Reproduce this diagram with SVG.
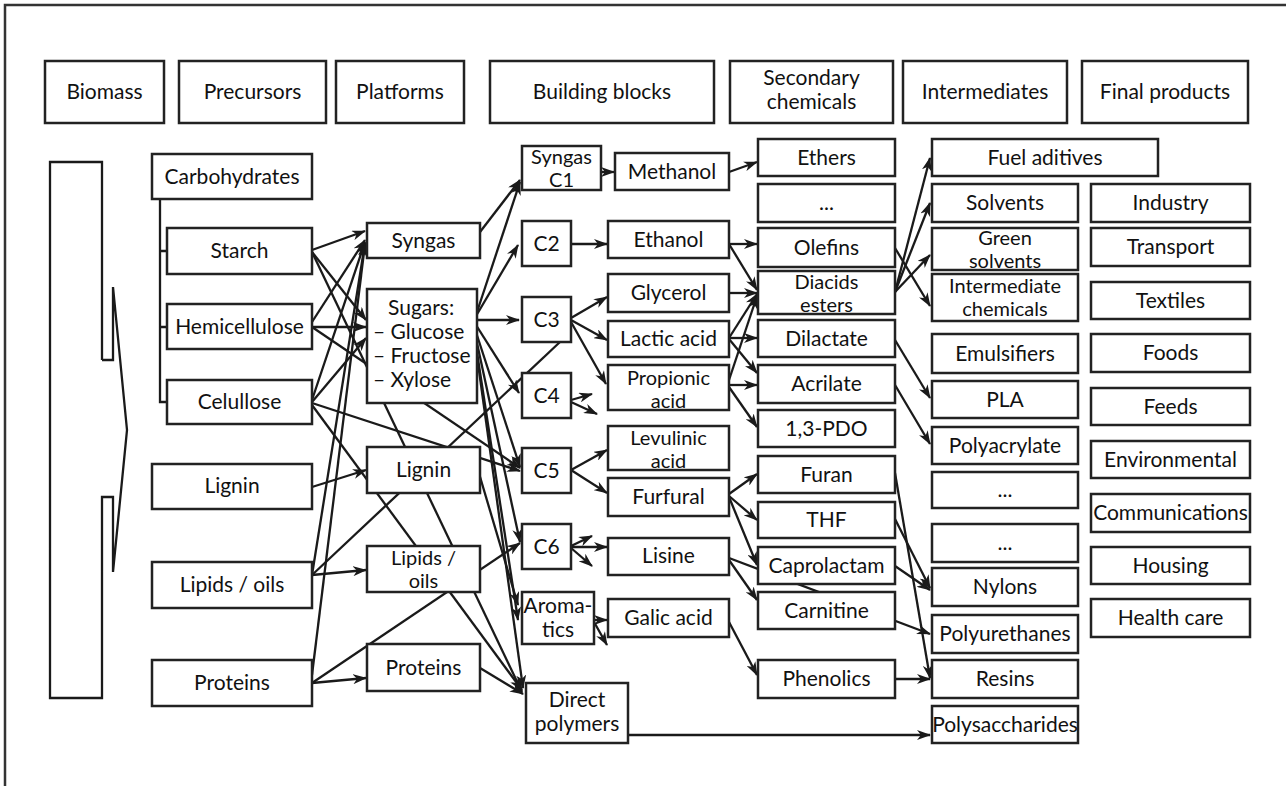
<svg xmlns="http://www.w3.org/2000/svg" width="1286" height="786" viewBox="0 0 1286 786">
<defs>
<marker id="ah" viewBox="0 0 14 10" refX="13" refY="5" markerWidth="14" markerHeight="10" markerUnits="userSpaceOnUse" orient="auto">
<path d="M0,0 L14,5 L0,10 L4,5 z" fill="#1a1a1a"/>
</marker>
<style>
.box{fill:#fff;stroke:#222;stroke-width:2.5}
.t{font-family:Lato,"Open Sans","Liberation Sans",sans-serif;font-size:21px;fill:#111;text-anchor:middle}
.t2{font-size:20px}
.s{text-anchor:start}
.c{stroke:#1a1a1a;stroke-width:2.3;fill:none;marker-end:url(#ah)}
.p{stroke:#1a1a1a;stroke-width:2.3;fill:none}
.frame{stroke:#333;stroke-width:2.5;fill:none}
</style>
</defs>
<rect width="1286" height="786" fill="#fff"/>
<path class="frame" d="M5,786 L5,5 L1286,5"/>
<g id="biomass-arrow">
<path class="p" d="M102,360 L102,162 L50,162 L50,698 L102,698 L102,497 L113,497 L113,572 L127,430 L113,287 L113,360 L102,360"/>
</g>
<g id="connectors">
<path class="p" d="M160,199 L160,402 L167,402 M160,251 L167,251 M160,327 L167,327"/>
<path class="c" d="M312,250 L365,231"/>
<path class="c" d="M312,252 L366,320"/>
<path class="c" d="M312,252 L522,692"/>
<path class="c" d="M312,322 L365,240"/>
<path class="c" d="M312,327 L366,327"/>
<path class="c" d="M312,327 L520,468"/>
<path class="c" d="M312,400 L365,242"/>
<path class="c" d="M312,402 L366,338"/>
<path class="c" d="M312,403 L520,471"/>
<path class="c" d="M312,405 L522,690"/>
<path class="c" d="M312,487 L366,470"/>
<path class="c" d="M312,575 L365,243"/>
<path class="c" d="M312,575 L366,570"/>
<path class="p" d="M312,575 L560,342"/>
<path class="c" d="M312,675 L365,244"/>
<path class="c" d="M312,683 L366,678"/>
<path class="c" d="M312,683 L520,543"/>
<path class="c" d="M480,232 L520,180"/>
<path class="c" d="M476,315 L520,182"/>
<path class="c" d="M476,316 L518,245"/>
<path class="c" d="M477,320 L519,320"/>
<path class="c" d="M476,325 L519,393"/>
<path class="c" d="M472,320 L520,467"/>
<path class="c" d="M472,320 L520,542"/>
<path class="c" d="M472,320 L518,620"/>
<path class="c" d="M472,320 L523,688"/>
<path class="c" d="M478,470 L518,605"/>
<path class="c" d="M480,668 L523,694"/>
<path class="c" d="M601,172 L614,172"/>
<path class="c" d="M571,244 L607,244"/>
<path class="c" d="M571,318 L607,297"/>
<path class="c" d="M571,320 L607,340"/>
<path class="c" d="M571,322 L606,384"/>
<path class="c" d="M571,400 L592,394"/>
<path class="c" d="M571,402 L597,414"/>
<path class="c" d="M571,470 L607,450"/>
<path class="c" d="M571,470 L607,493"/>
<path class="c" d="M571,546 L592,536"/>
<path class="c" d="M571,548 L592,566"/>
<path class="c" d="M571,547 L607,547"/>
<path class="c" d="M594,620 L607,620"/>
<path class="c" d="M594,622 L607,645"/>
<path class="c" d="M628,735 L930,735"/>
<path class="c" d="M729,172 L757,162"/>
<path class="c" d="M729,244 L757,244"/>
<path class="c" d="M729,244 L757,290"/>
<path class="c" d="M729,293 L757,293"/>
<path class="c" d="M729,338 L757,294"/>
<path class="c" d="M729,338 L757,338"/>
<path class="c" d="M729,339 L757,373"/>
<path class="c" d="M729,380 L757,296"/>
<path class="c" d="M729,385 L757,385"/>
<path class="c" d="M729,387 L757,427"/>
<path class="c" d="M729,494 L757,474"/>
<path class="c" d="M729,496 L757,520"/>
<path class="c" d="M729,497 L757,565"/>
<path class="c" d="M729,558 L930,634"/>
<path class="c" d="M729,560 L757,600"/>
<path class="c" d="M729,622 L757,675"/>
<path class="c" d="M895,292 L930,158"/>
<path class="c" d="M895,292 L930,203"/>
<path class="c" d="M895,292 L930,255"/>
<path class="c" d="M895,248 L930,306"/>
<path class="c" d="M895,340 L930,398"/>
<path class="c" d="M895,385 L930,444"/>
<path class="c" d="M895,473 L930,678"/>
<path class="c" d="M895,519 L930,588"/>
<path class="c" d="M895,566 L930,590"/>
<path class="c" d="M895,679 L930,679"/>
</g>
<g id="h-biomass"><rect class="box" x="45" y="61" width="119" height="62"/><text class="t" x="104.5" y="99">Biomass</text></g>
<g id="h-precursors"><rect class="box" x="179" y="61" width="147" height="62"/><text class="t" x="252.5" y="99">Precursors</text></g>
<g id="h-platforms"><rect class="box" x="336" y="61" width="128" height="62"/><text class="t" x="400" y="99">Platforms</text></g>
<g id="h-building"><rect class="box" x="490" y="61" width="224" height="62"/><text class="t" x="602" y="99">Building blocks</text></g>
<g id="h-secondary"><rect class="box" x="730" y="61" width="163" height="62"/><text class="t" x="811.5" y="85">Secondary</text><text class="t" x="811.5" y="109">chemicals</text></g>
<g id="h-intermediates"><rect class="box" x="903" y="61" width="164" height="62"/><text class="t" x="985" y="99">Intermediates</text></g>
<g id="h-final"><rect class="box" x="1082" y="61" width="166" height="62"/><text class="t" x="1165" y="99">Final products</text></g>

<g id="p-carbohydrates"><rect class="box" x="152" y="154" width="160" height="45"/><text class="t" x="232" y="184">Carbohydrates</text></g>
<g id="p-starch"><rect class="box" x="167" y="228" width="145" height="46"/><text class="t" x="239.5" y="258">Starch</text></g>
<g id="p-hemicellulose"><rect class="box" x="167" y="304" width="145" height="45"/><text class="t" x="239.5" y="334">Hemicellulose</text></g>
<g id="p-celullose"><rect class="box" x="167" y="380" width="145" height="44"/><text class="t" x="239.5" y="409">Celullose</text></g>
<g id="p-lignin"><rect class="box" x="152" y="464" width="160" height="45"/><text class="t" x="232" y="493">Lignin</text></g>
<g id="p-lipids"><rect class="box" x="152" y="562" width="160" height="46"/><text class="t" x="232" y="592">Lipids / oils</text></g>
<g id="p-proteins"><rect class="box" x="152" y="660" width="160" height="46"/><text class="t" x="232" y="690">Proteins</text></g>

<g id="pl-syngas"><rect class="box" x="367" y="223" width="113" height="35"/><text class="t" x="423.5" y="248">Syngas</text></g>
<g id="pl-sugars"><rect class="box" x="367" y="289" width="110" height="114"/><text class="t s" x="388" y="315">Sugars:</text><text class="t s" x="373" y="339">– Glucose</text><text class="t s" x="373" y="363">– Fructose</text><text class="t s" x="373" y="387">– Xylose</text></g>
<g id="pl-lignin"><rect class="box" x="367" y="447" width="113" height="46"/><text class="t" x="423.5" y="477">Lignin</text></g>
<g id="pl-lipids"><rect class="box" x="367" y="546" width="113" height="46"/><text class="t t2" x="423.5" y="565">Lipids /</text><text class="t t2" x="423.5" y="588">oils</text></g>
<g id="pl-proteins"><rect class="box" x="367" y="644" width="113" height="47"/><text class="t" x="423.5" y="675">Proteins</text></g>

<g id="b-c1"><rect class="box" x="522" y="146" width="79" height="44"/><text class="t t2" x="561.5" y="164">Syngas</text><text class="t t2" x="561.5" y="187">C1</text></g>
<g id="b-c2"><rect class="box" x="522" y="221" width="49" height="45"/><text class="t" x="546.5" y="251">C2</text></g>
<g id="b-c3"><rect class="box" x="522" y="297" width="49" height="45"/><text class="t" x="546.5" y="327">C3</text></g>
<g id="b-c4"><rect class="box" x="522" y="373" width="49" height="45"/><text class="t" x="546.5" y="403">C4</text></g>
<g id="b-c5"><rect class="box" x="522" y="448" width="49" height="45"/><text class="t" x="546.5" y="478">C5</text></g>
<g id="b-c6"><rect class="box" x="522" y="524" width="49" height="45"/><text class="t" x="546.5" y="554">C6</text></g>
<g id="b-aromatics"><rect class="box" x="522" y="592" width="72" height="52"/><text class="t" x="558" y="613">Aroma-</text><text class="t" x="558" y="637">tics</text></g>
<g id="b-direct"><rect class="box" x="526" y="683" width="102" height="60"/><text class="t" x="577" y="707">Direct</text><text class="t" x="577" y="731">polymers</text></g>

<g id="b-methanol"><rect class="box" x="615" y="153" width="114" height="37"/><text class="t" x="672" y="179">Methanol</text></g>
<g id="b-ethanol"><rect class="box" x="608" y="221" width="121" height="37"/><text class="t" x="668.5" y="247">Ethanol</text></g>
<g id="b-glycerol"><rect class="box" x="608" y="274" width="121" height="38"/><text class="t" x="668.5" y="300">Glycerol</text></g>
<g id="b-lactic"><rect class="box" x="608" y="321" width="121" height="36"/><text class="t" x="668.5" y="346">Lactic acid</text></g>
<g id="b-propionic"><rect class="box" x="608" y="365" width="121" height="45"/><text class="t t2" x="668.5" y="385">Propionic</text><text class="t t2" x="668.5" y="408">acid</text></g>
<g id="b-levulinic"><rect class="box" x="608" y="426" width="121" height="44"/><text class="t t2" x="668.5" y="445">Levulinic</text><text class="t t2" x="668.5" y="468">acid</text></g>
<g id="b-furfural"><rect class="box" x="608" y="478" width="121" height="38"/><text class="t" x="668.5" y="504">Furfural</text></g>
<g id="b-lisine"><rect class="box" x="608" y="538" width="121" height="37"/><text class="t" x="668.5" y="563">Lisine</text></g>
<g id="b-galic"><rect class="box" x="608" y="599" width="121" height="38"/><text class="t" x="668.5" y="625">Galic acid</text></g>

<g id="s-ethers"><rect class="box" x="758" y="139" width="137" height="37"/><text class="t" x="826.5" y="165">Ethers</text></g>
<g id="s-dots"><rect class="box" x="758" y="184" width="137" height="38"/><text class="t" x="826.5" y="210">...</text></g>
<g id="s-olefins"><rect class="box" x="758" y="228" width="137" height="39"/><text class="t" x="826.5" y="255">Olefins</text></g>
<g id="s-diacids"><rect class="box" x="758" y="271" width="137" height="43"/><text class="t t2" x="826.5" y="289">Diacids</text><text class="t t2" x="826.5" y="312">esters</text></g>
<g id="s-dilactate"><rect class="box" x="758" y="320" width="137" height="37"/><text class="t" x="826.5" y="346">Dilactate</text></g>
<g id="s-acrilate"><rect class="box" x="758" y="365" width="137" height="38"/><text class="t" x="826.5" y="391">Acrilate</text></g>
<g id="s-pdo"><rect class="box" x="758" y="410" width="137" height="37"/><text class="t" x="826.5" y="436">1,3-PDO</text></g>
<g id="s-furan"><rect class="box" x="758" y="456" width="137" height="37"/><text class="t" x="826.5" y="482">Furan</text></g>
<g id="s-thf"><rect class="box" x="758" y="502" width="137" height="36"/><text class="t" x="826.5" y="527">THF</text></g>
<g id="s-caprolactam"><rect class="box" x="758" y="547" width="137" height="37"/><text class="t" x="826.5" y="573">Caprolactam</text></g>
<g id="s-carnitine"><rect class="box" x="758" y="592" width="137" height="37"/><text class="t" x="826.5" y="618">Carnitine</text></g>
<g id="s-phenolics"><rect class="box" x="758" y="660" width="137" height="38"/><text class="t" x="826.5" y="686">Phenolics</text></g>

<g id="i-fuel"><rect class="box" x="932" y="139" width="226" height="37"/><text class="t" x="1045" y="165">Fuel aditives</text></g>
<g id="i-solvents"><rect class="box" x="932" y="184" width="146" height="38"/><text class="t" x="1005" y="210">Solvents</text></g>
<g id="i-green"><rect class="box" x="932" y="228" width="146" height="42"/><text class="t t2" x="1005" y="245">Green</text><text class="t t2" x="1005" y="268">solvents</text></g>
<g id="i-intchem"><rect class="box" x="932" y="274" width="146" height="47"/><text class="t t2" x="1005" y="293">Intermediate</text><text class="t t2" x="1005" y="316">chemicals</text></g>
<g id="i-emulsifiers"><rect class="box" x="932" y="334" width="146" height="39"/><text class="t" x="1005" y="361">Emulsifiers</text></g>
<g id="i-pla"><rect class="box" x="932" y="381" width="146" height="37"/><text class="t" x="1005" y="407">PLA</text></g>
<g id="i-polyacrylate"><rect class="box" x="932" y="427" width="146" height="37"/><text class="t" x="1005" y="453">Polyacrylate</text></g>
<g id="i-dots1"><rect class="box" x="932" y="472" width="146" height="36"/><text class="t" x="1005" y="497">...</text></g>
<g id="i-dots2"><rect class="box" x="932" y="524" width="146" height="38"/><text class="t" x="1005" y="550">...</text></g>
<g id="i-nylons"><rect class="box" x="932" y="568" width="146" height="38"/><text class="t" x="1005" y="594">Nylons</text></g>
<g id="i-polyurethanes"><rect class="box" x="932" y="615" width="146" height="38"/><text class="t" x="1005" y="641">Polyurethanes</text></g>
<g id="i-resins"><rect class="box" x="932" y="660" width="146" height="38"/><text class="t" x="1005" y="686">Resins</text></g>
<g id="i-polysaccharides"><rect class="box" x="932" y="706" width="146" height="37"/><text class="t" x="1005" y="732">Polysaccharides</text></g>

<g id="f-industry"><rect class="box" x="1091" y="184" width="159" height="38"/><text class="t" x="1170.5" y="210">Industry</text></g>
<g id="f-transport"><rect class="box" x="1091" y="228" width="159" height="38"/><text class="t" x="1170.5" y="254">Transport</text></g>
<g id="f-textiles"><rect class="box" x="1091" y="282" width="159" height="37"/><text class="t" x="1170.5" y="308">Textiles</text></g>
<g id="f-foods"><rect class="box" x="1091" y="334" width="159" height="38"/><text class="t" x="1170.5" y="360">Foods</text></g>
<g id="f-feeds"><rect class="box" x="1091" y="388" width="159" height="37"/><text class="t" x="1170.5" y="414">Feeds</text></g>
<g id="f-environmental"><rect class="box" x="1091" y="441" width="159" height="37"/><text class="t" x="1170.5" y="467">Environmental</text></g>
<g id="f-communications"><rect class="box" x="1091" y="494" width="159" height="38"/><text class="t" x="1170.5" y="520">Communications</text></g>
<g id="f-housing"><rect class="box" x="1091" y="547" width="159" height="37"/><text class="t" x="1170.5" y="573">Housing</text></g>
<g id="f-healthcare"><rect class="box" x="1091" y="599" width="159" height="38"/><text class="t" x="1170.5" y="625">Health care</text></g>
</svg>
